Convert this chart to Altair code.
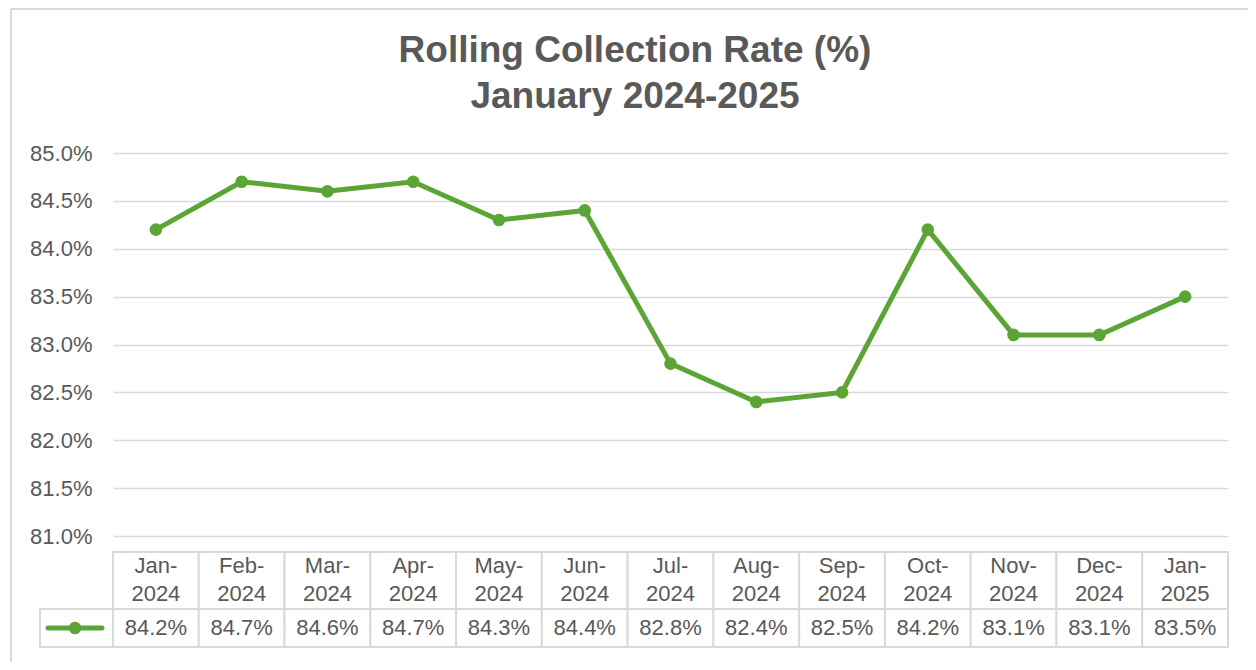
import altair as alt
import pandas as pd

months = ["Jan-2024", "Feb-2024", "Mar-2024", "Apr-2024", "May-2024", "Jun-2024",
          "Jul-2024", "Aug-2024", "Sep-2024", "Oct-2024", "Nov-2024", "Dec-2024", "Jan-2025"]
rates = [84.2, 84.7, 84.6, 84.7, 84.3, 84.4, 82.8, 82.4, 82.5, 84.2, 83.1, 83.1, 83.5]
y_ticks = [81.0, 81.5, 82.0, 82.5, 83.0, 83.5, 84.0, 84.5, 85.0]
title_lines = ["Rolling Collection Rate (%)", "January 2024-2025"]

GREEN = "#5AA536"
GRAY = "#595959"
BORDER = "#D9D9D9"
FONT = "Liberation Sans"
FS = 22
W, H = 1115, 383

df = pd.DataFrame({
    "month": months,
    "rate": rates,
    "header": [m.replace("-", "-\n") for m in months],
    "label": [f"{r:.1f}%" for r in rates],
})

band = alt.Scale(type="band", paddingInner=0, paddingOuter=0)
xband = alt.X("month:N", sort=months, scale=band, axis=None)
xcenter = alt.X("month:N", sort=months, scale=band, axis=None, bandPosition=0.5)
yenc = alt.Y("rate:Q",
             scale=alt.Scale(domain=[81, 85], nice=False, zero=False),
             axis=alt.Axis(values=y_ticks, labelExpr="format(datum.value, '.1f') + '%'",
                           grid=True, gridColor=BORDER, gridWidth=1.5, domain=False, ticks=False,
                           labelPadding=21, labelFontSize=FS, labelColor=GRAY, labelFont=FONT,
                           title=None))

base = alt.Chart(df)
one = pd.DataFrame({"k": [0]})

frame_top = alt.Chart(one).mark_rule(color=BORDER, strokeWidth=2).encode(
    x=alt.value(-102), x2=alt.value(W + 200), y=alt.value(-144))
frame_left = alt.Chart(one).mark_rule(color=BORDER, strokeWidth=2).encode(
    x=alt.value(-102), y=alt.value(-144), y2=alt.value(H + 300))

title1 = alt.Chart(one).mark_text(text=title_lines[0], font=FONT, fontSize=37, fontWeight="bold",
                                  color=GRAY, baseline="alphabetic", align="center").encode(
    x=alt.value(522), y=alt.value(-91))
title2 = alt.Chart(one).mark_text(text=title_lines[1], font=FONT, fontSize=37, fontWeight="bold",
                                  color=GRAY, baseline="alphabetic", align="center").encode(
    x=alt.value(522), y=alt.value(-45))

line = base.mark_line(color=GREEN, strokeWidth=5).encode(x=xcenter, y=yenc)
pts = base.mark_point(color=GREEN, filled=True, opacity=1, size=160, shape="circle").encode(
    x=xcenter, y=yenc)

head_cells = base.mark_rect(fill="white", stroke=BORDER, strokeWidth=2).encode(
    x=xband, y=alt.value(399), y2=alt.value(456))
val_cells = base.mark_rect(fill="white", stroke=BORDER, strokeWidth=2).encode(
    x=xband, y=alt.value(456), y2=alt.value(494))
head_text = base.mark_text(font=FONT, fontSize=FS, color=GRAY, lineBreak="\n",
                           lineHeight=28, baseline="middle").encode(
    x=xcenter, y=alt.value(413), text="header:N")
val_text = base.mark_text(font=FONT, fontSize=FS, color=GRAY, baseline="middle").encode(
    x=xcenter, y=alt.value(475), text="label:N")

legend_cell = alt.Chart(one).mark_rect(fill="white", stroke=BORDER, strokeWidth=2).encode(
    x=alt.value(-73), x2=alt.value(0), y=alt.value(456), y2=alt.value(494))
legend_line = alt.Chart(one).mark_rule(color=GREEN, strokeWidth=5, strokeCap="round").encode(
    x=alt.value(-65), x2=alt.value(-11), y=alt.value(475))
legend_pt = alt.Chart(one).mark_point(color=GREEN, filled=True, opacity=1, size=160,
                                      shape="circle").encode(
    x=alt.value(-38), y=alt.value(475))

chart = alt.layer(
    frame_top, frame_left, title1, title2, line, pts, head_cells, val_cells, head_text, val_text,
    legend_cell, legend_line, legend_pt,
).properties(
    width=W, height=H,
    autosize=alt.AutoSizeParams(type="none"),
    padding={"left": 105, "top": 145, "right": 20, "bottom": 126},
).configure(background="white", view=alt.ViewConfig(stroke=None))

chart.save("out.html", embed_options={"renderer": "svg", "actions": False})
